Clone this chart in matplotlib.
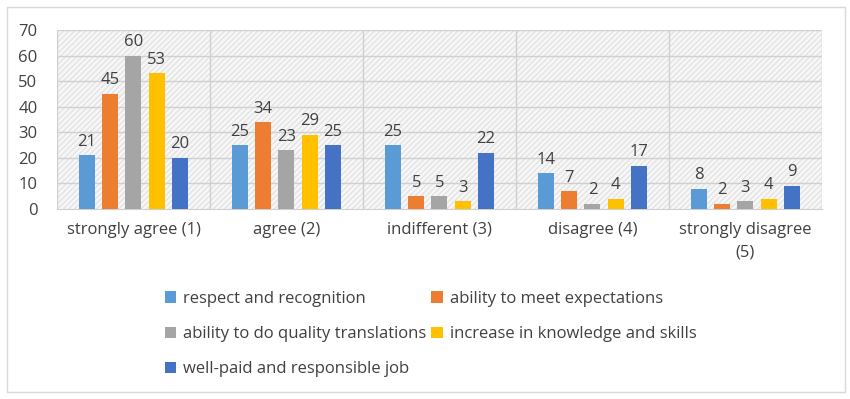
import matplotlib.pyplot as plt
from matplotlib.patches import Rectangle
import numpy as np

plt.rcParams['font.family'] = ['Open Sans', 'DejaVu Sans']

# ==================== DATA ====================
categories = ['strongly agree (1)', 'agree (2)', 'indifferent (3)',
              'disagree (4)', 'strongly disagree\n(5)']
series_names = ['respect and recognition', 'ability to meet expectations',
                'ability to do quality translations', 'increase in knowledge and skills',
                'well-paid and responsible job']
respect = [21, 25, 25, 14, 8]
expectations = [45, 34, 5, 7, 2]
quality = [60, 23, 5, 2, 3]
knowledge = [53, 29, 3, 4, 4]
wellpaid = [20, 25, 22, 17, 9]
y_ticks = [0, 10, 20, 30, 40, 50, 60, 70]

colors = ['#5B9BD5', '#ED7D31', '#A5A5A5', '#FFC000', '#4472C4']
txt = '#404040'
grid = '#d0d0d0'

# ==================== PLOT ====================
fig = plt.figure(figsize=(8.5, 3.99), dpi=100)
ax = fig.add_axes([0.067, 0.476, 0.9, 0.449])

# hatched plot background
ax.add_patch(Rectangle((0, 0), 1, 1, transform=ax.transAxes, facecolor='#f7f7f7',
                       edgecolor='#e3e3e3', hatch='//////', lw=0, zorder=0))

x = np.arange(len(categories))
step = 0.152
width = 0.105
all_series = [respect, expectations, quality, knowledge, wellpaid]
handles = []
for i, (vals, name) in enumerate(zip(all_series, series_names)):
    pos = x + (i - 2) * step
    bars = ax.bar(pos, vals, width, color=colors[i], label=name, zorder=3)
    handles.append(bars)
    for b, v in zip(bars, vals):
        ax.annotate(str(v), (b.get_x() + b.get_width() / 2, v), xytext=(0, 4),
                    textcoords='offset points', ha='center', va='bottom',
                    fontsize=12, color=txt, zorder=4)

ax.set_xlim(-0.5, len(categories) - 0.5)
ax.set_ylim(0, 70)
ax.set_yticks(y_ticks)
ax.set_xticks(x)
ax.set_xticklabels(categories, linespacing=1.6)
ax.tick_params(axis='both', length=0, labelsize=12, colors=txt)
ax.tick_params(axis='x', pad=9)
ax.tick_params(axis='y', pad=14)

for yv in y_ticks[1:]:
    ax.axhline(yv, color=grid, lw=1, zorder=1)
for xv in np.arange(-0.5, len(categories), 1.0):
    ax.axvline(xv, color=grid, lw=1, zorder=1)
for s in ['top', 'right', 'left']:
    ax.spines[s].set_visible(False)
ax.spines['bottom'].set_color(grid)

# legend filled row by row
order = [0, 2, 4, 1, 3]
fig.legend([handles[k] for k in order], [series_names[k] for k in order],
           loc='upper left', bbox_to_anchor=(0.176, 0.308), ncol=2, frameon=False,
           fontsize=12, labelcolor=txt, handlelength=0.7, handleheight=0.7,
           handletextpad=0.4, columnspacing=0.3, labelspacing=1.15)

# outer chart border
fig.add_artist(Rectangle((7 / 850, 7 / 399), 838 / 850, 385 / 399, transform=fig.transFigure,
                         fill=False, edgecolor='#d9d9d9', lw=1))

plt.savefig('out.png', dpi=100, facecolor='white')
